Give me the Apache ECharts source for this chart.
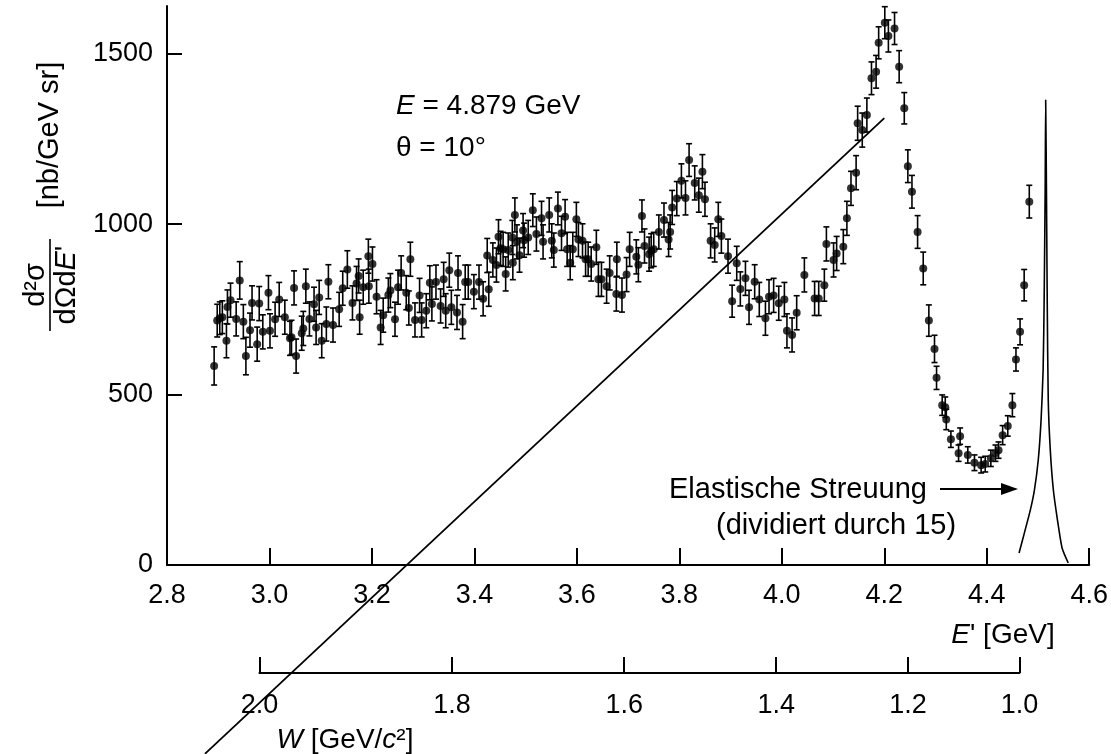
<!DOCTYPE html>
<html><head><meta charset="utf-8">
<script src="https://cdn.jsdelivr.net/npm/echarts@6/dist/echarts.min.js"></script>
<style>html,body{margin:0;padding:0;background:#fff}#c{width:1111px;height:754px}</style>
</head><body><div id="c"></div><script>
// ---- data ----
const ePrime = [2.892,2.898,2.903,2.908,2.916,2.918,2.924,2.935,2.942,2.949,2.954,2.962,2.966,2.976,2.980,2.987,2.998,3.001,3.011,3.019,
3.030,3.040,3.043,3.048,3.052,3.063,3.066,3.071,3.078,3.087,3.091,3.097,3.102,3.111,3.115,3.124,3.136,3.143,3.152,3.162,
3.170,3.174,3.176,3.183,3.193,3.194,3.201,3.209,3.217,3.222,3.232,3.236,3.245,3.251,3.257,3.267,3.272,3.275,3.284,3.293,
3.297,3.306,3.313,3.317,3.325,3.334,3.340,3.344,3.351,3.355,3.366,3.368,3.377,3.382,3.388,3.399,3.409,3.417,3.425,3.428,
3.436,3.443,3.447,3.451,3.456,3.461,3.466,3.474,3.475,3.479,3.483,3.488,3.495,3.497,3.505,3.514,3.521,3.531,3.534,3.546,
3.551,3.555,3.563,3.570,3.577,3.581,3.587,3.592,3.599,3.603,3.611,3.617,3.622,3.628,3.638,3.642,3.648,3.658,3.664,3.677,
3.678,3.688,3.697,3.703,3.716,3.720,3.727,3.732,3.741,3.745,3.750,3.760,3.770,3.779,3.782,3.786,3.795,3.804,3.812,3.819,
3.830,3.838,3.845,3.850,3.861,3.869,3.876,3.882,3.895,3.903,3.912,3.919,3.929,3.936,3.947,3.956,3.968,3.975,3.984,3.994,
4.005,4.010,4.020,4.029,4.044,4.064,4.072,4.083,4.087,4.101,4.107,4.120,4.127,4.135,4.145,4.148,4.157,4.166,4.175,4.184,
4.189,4.201,4.208,4.220,4.229,4.239,4.246,4.254,4.265,4.276,4.287,4.298,4.302,4.313,4.319,4.321,4.330,4.345,4.348,4.363,
4.376,4.389,4.397,4.408,4.417,4.423,4.431,4.441,4.450,4.457,4.465,4.473,4.483];
const sigma = [584,717,724,727,658,757,777,722,835,714,613,689,769,648,767,684,799,687,721,779,
727,665,668,813,613,680,694,818,722,765,697,785,658,707,831,704,750,812,867,769,
826,848,727,815,906,818,883,787,697,733,792,805,721,815,857,799,754,897,719,791,
719,746,828,766,830,760,838,746,865,756,741,857,714,830,830,802,830,781,908,809,
895,880,963,929,926,854,924,961,887,1027,948,909,981,953,961,1041,971,1017,948,1027,
951,924,1046,973,1022,926,887,926,1014,955,951,897,897,883,932,838,838,818,857,795,
897,792,852,926,904,881,1024,936,912,922,926,977,1012,955,977,1049,1075,1127,1077,1188,
1121,1085,1154,1073,951,939,1014,965,906,774,885,810,841,756,831,779,724,787,791,768,
779,687,675,740,851,782,782,821,942,895,914,934,1017,1105,1151,1296,1276,1320,1428,1447,
1532,1591,1552,1574,1462,1340,1170,1095,977,870,717,634,549,469,463,427,369,328,378,323,
300,293,296,313,328,337,381,408,469,603,684,821,1066];
const sigmaErr = [56,48,48,48,50,50,50,50,55,50,55,50,50,50,50,50,50,50,50,50,
50,50,50,50,50,50,50,50,50,50,50,50,50,50,50,50,50,50,55,50,
50,50,50,50,50,50,50,50,50,50,50,50,50,50,50,50,50,50,50,50,
50,50,50,50,50,50,50,50,50,50,50,50,50,50,50,50,50,50,50,50,
50,50,50,50,50,50,50,50,50,50,50,50,50,50,50,48,50,50,50,50,
50,50,48,50,50,50,50,50,50,50,50,50,50,50,50,50,50,50,50,50,
50,50,50,50,50,50,47,50,50,50,50,50,50,50,50,50,50,50,50,48,
50,50,50,50,50,50,50,50,50,47,50,50,50,50,50,50,50,50,50,50,
50,50,50,50,50,50,50,47,50,50,50,50,50,50,50,50,50,50,48,48,
47,47,47,47,47,46,48,48,48,48,46,40,34,30,30,30,24,24,24,24,
23,23,23,24,24,24,28,30,34,34,38,46,48];
// elastic peak (divided by 15)
const elasticE = [4.463,4.475,4.485,4.493,4.5005,4.506,4.510,4.512,4.514,4.515,4.5165,4.518,4.520,4.524,4.530,4.538,4.547,4.559];
const elasticSigma = [35,103,161,220,308,425,572,777,1100,1364,1100,777,484,337,220,132,50,6];
// straight diagonal line drawn across the figure
const diagE = [2.874, 4.200];
const diagSigma = [-554, 1311];
// axis tick labels
const eTicks = [2.8,3.0,3.2,3.4,3.6,3.8,4.0,4.2,4.4,4.6];
const yTicks = [0,500,1000,1500];
const wTicks = [2.0,1.8,1.6,1.4,1.2,1.0];
// kinematics for the W scale
const beamE = 4.879, thetaDeg = 10, protonM = 0.938;
function eFromW(w){
  const s2 = Math.pow(Math.sin(thetaDeg*Math.PI/360),2);
  return (protonM*protonM + 2*protonM*beamE - w*w)/(2*protonM + 4*beamE*s2);
}

// ---- layout ----
const FONT = '"Liberation Sans", Arial, Helvetica, sans-serif';
const L = 167, R = 21, T = 6, B = 189, CW = 1111;
const plotW = CW - L - R;
const xMin = 2.8, xMax = 4.6, yMax = 1640;
const wE = wTicks.map(eFromW);
const wLeft = L + (wE[0]-xMin)/(xMax-xMin)*plotW;
const wRight = L + (wE[wE.length-1]-xMin)/(xMax-xMin)*plotW;

const points = ePrime.map((e,i)=>[e, sigma[i], sigmaErr[i]]);
const elastic = elasticE.map((e,i)=>[e, elasticSigma[i]]);
const diag = diagE.map((e,i)=>[e, diagSigma[i]]);

const axisLineStyle = {color:'#000', width:2};
const chart = echarts.init(document.getElementById('c'), null, {renderer:'canvas'});
chart.setOption({
  animation:false,
  backgroundColor:'#fff',
  grid:[
    {left:L, right:R, top:T, bottom:B},
    {left:wLeft, width:wRight-wLeft, top:663, height:10}
  ],
  xAxis:[
    {type:'value', gridIndex:0, min:xMin, max:xMax,
     axisLine:{show:true, onZero:false, lineStyle:axisLineStyle},
     axisTick:{show:true, inside:true, length:17, lineStyle:axisLineStyle, customValues:eTicks},
     axisLabel:{show:true, customValues:eTicks, margin:17, color:'#000', fontSize:27, fontFamily:FONT,
       formatter:v=>v.toFixed(1)},
     splitLine:{show:false}},
    {type:'value', gridIndex:1, min:wE[0], max:wE[wE.length-1],
     axisLine:{show:true, onZero:false, lineStyle:axisLineStyle},
     axisTick:{show:true, inside:true, length:16, lineStyle:axisLineStyle, customValues:wE},
     axisLabel:{show:true, customValues:wE, margin:19, color:'#000', fontSize:27, fontFamily:FONT,
       formatter:v=>{let bi=0,bd=1e9; wE.forEach((e,i)=>{const d=Math.abs(e-v); if(d<bd){bd=d;bi=i;}}); return wTicks[bi].toFixed(1);}},
     splitLine:{show:false}}
  ],
  yAxis:[
    {type:'value', gridIndex:0, min:0, max:yMax,
     axisLine:{show:true, onZero:false, lineStyle:axisLineStyle},
     axisTick:{show:true, inside:true, length:15, lineStyle:axisLineStyle, customValues:yTicks},
     axisLabel:{show:true, customValues:yTicks, margin:14, color:'#000', fontSize:27, fontFamily:FONT,
       formatter:v=>String(Math.round(v))},
     splitLine:{show:false}},
    {type:'value', gridIndex:1, show:false, min:0, max:1}
  ],
  series:[
    {type:'custom', xAxisIndex:0, yAxisIndex:0, data:points, z:3, clip:false,
     encode:{x:0, y:1},
     renderItem:function(params, api){
       const x = api.value(0), y = api.value(1), e = api.value(2);
       const t = api.coord([x, y+e]), b = api.coord([x, y-e]);
       const c = 3, st = {stroke:'#000', lineWidth:1.6};
       return {type:'group', children:[
         {type:'line', shape:{x1:t[0], y1:t[1], x2:b[0], y2:b[1]}, style:st},
         {type:'line', shape:{x1:t[0]-c, y1:t[1], x2:t[0]+c, y2:t[1]}, style:st},
         {type:'line', shape:{x1:b[0]-c, y1:b[1], x2:b[0]+c, y2:b[1]}, style:st}
       ]};
     }},
    {type:'scatter', xAxisIndex:0, yAxisIndex:0, data:points, symbol:'circle', symbolSize:8,
     itemStyle:{color:'#000'}, z:4, silent:true},
    {type:'line', xAxisIndex:0, yAxisIndex:0, data:elastic, symbol:'none', smooth:0.2,
     lineStyle:{color:'#000', width:1.6}, z:4},
    {type:'line', xAxisIndex:0, yAxisIndex:0, data:diag, symbol:'none', clip:false,
     lineStyle:{color:'#000', width:1.8}, z:5}
  ],
  graphic:[
    {type:'text', x:396, y:106, style:{text:'{i|E} = 4.879 GeV', align:'left', verticalAlign:'middle',
      fill:'#000', fontSize:28, fontFamily:FONT,
      rich:{i:{fontStyle:'italic', fontSize:28, fontFamily:FONT, fill:'#000'}}}},
    {type:'text', x:396, y:148, style:{text:'θ = 10°', align:'left', verticalAlign:'middle',
      fill:'#000', fontSize:28, fontFamily:FONT}},
    {type:'text', x:669, y:490, style:{text:'Elastische Streuung', align:'left', verticalAlign:'middle',
      fill:'#000', fontSize:29, fontFamily:FONT}},
    {type:'text', x:716, y:526, style:{text:'(dividiert durch 15)', align:'left', verticalAlign:'middle',
      fill:'#000', fontSize:29, fontFamily:FONT}},
    {type:'line', shape:{x1:940, y1:489, x2:1004, y2:489}, style:{stroke:'#000', lineWidth:2}},
    {type:'polygon', shape:{points:[[1018,489],[1001,483],[1001,495]]}, style:{fill:'#000'}},
    {type:'text', x:1003, y:635, style:{text:"{i|E}' [GeV]", align:'center', verticalAlign:'middle',
      fill:'#000', fontSize:28, fontFamily:FONT,
      rich:{i:{fontStyle:'italic', fontSize:28, fontFamily:FONT, fill:'#000'}}}},
    {type:'text', x:345, y:740, style:{text:'{i|W} [GeV/{i|c}²]', align:'center', verticalAlign:'middle',
      fill:'#000', fontSize:28, fontFamily:FONT,
      rich:{i:{fontStyle:'italic', fontSize:28, fontFamily:FONT, fill:'#000'}}}},
    {type:'text', x:50, y:135, rotation:Math.PI/2, style:{text:'[nb/GeV sr]', align:'center', verticalAlign:'middle',
      fill:'#000', fontSize:29, fontFamily:FONT}},
    {type:'group', x:50, y:285, rotation:Math.PI/2, children:[
      {type:'text', x:0, y:0, style:{text:'d²σ', align:'center', verticalAlign:'bottom',
        fill:'#000', fontSize:29, fontFamily:FONT}},
      {type:'line', shape:{x1:-46, y1:0, x2:46, y2:0}, style:{stroke:'#000', lineWidth:1.6}},
      {type:'text', x:0, y:2, style:{text:"dΩd{i|E}'", align:'center', verticalAlign:'top',
        fill:'#000', fontSize:29, fontFamily:FONT,
        rich:{i:{fontStyle:'italic', fontSize:29, fontFamily:FONT, fill:'#000'}}}}
    ]}
  ]
});
</script></body></html>
